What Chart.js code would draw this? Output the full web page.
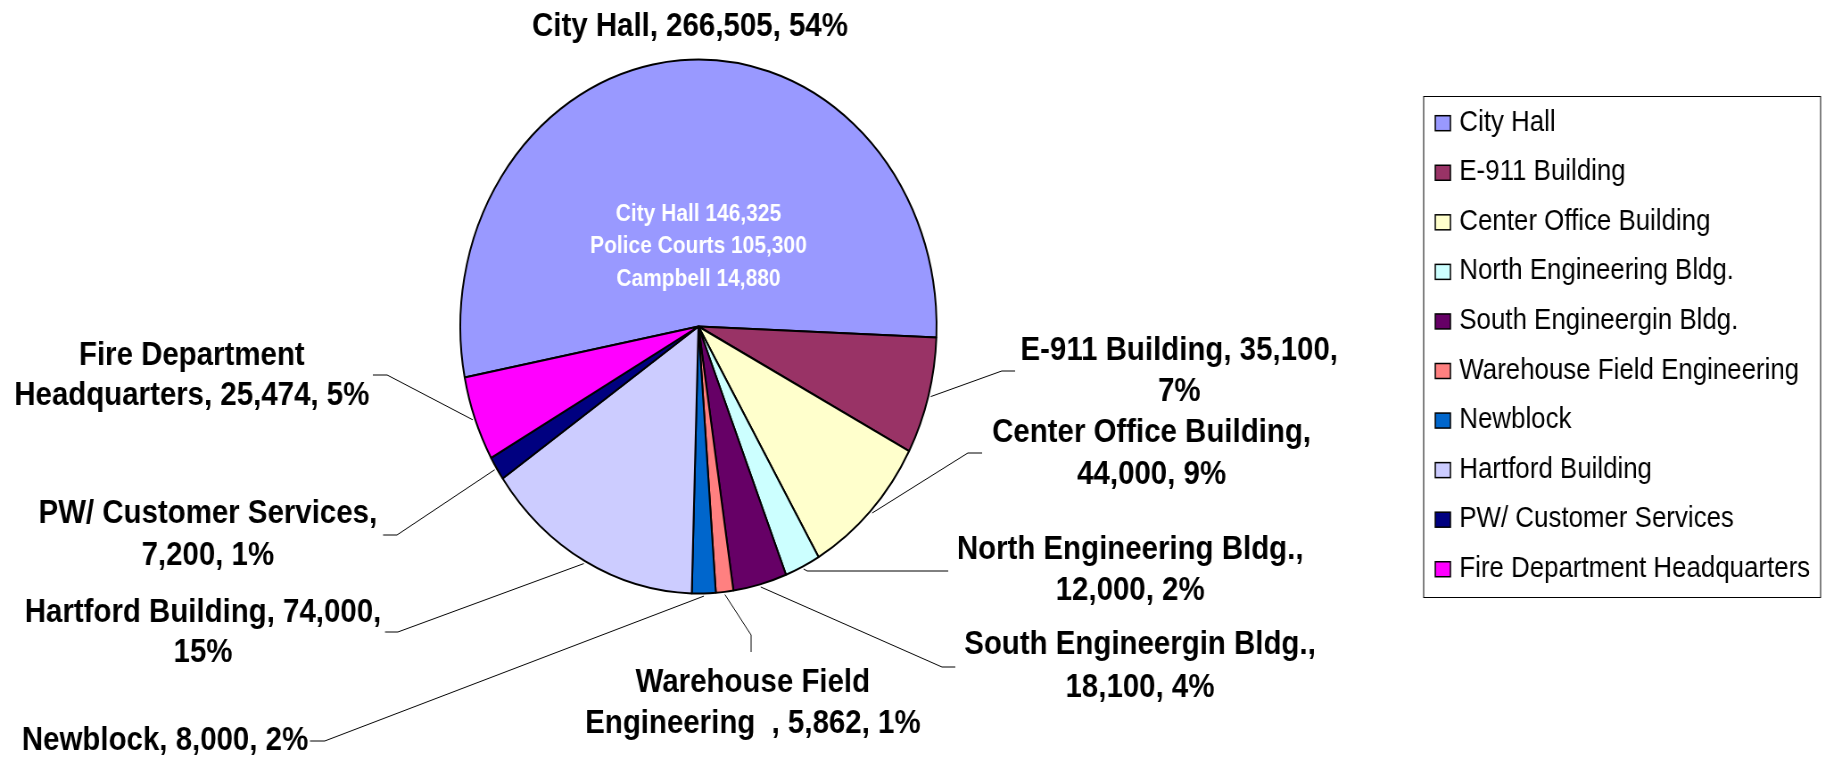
<!DOCTYPE html>
<html><head><meta charset="utf-8">
<script src="https://cdn.jsdelivr.net/npm/chart.js@4/dist/chart.umd.min.js"></script>
<style>
html,body{margin:0;padding:0;background:#fff;overflow:hidden;width:1828px;height:758px;}
#wrap{position:absolute;left:0;top:0;width:2050px;height:758px;transform:scaleX(0.892);transform-origin:0 0;}
canvas{display:block;}
</style></head><body>
<div id="wrap"><canvas id="c" width="2050" height="758"></canvas></div>
<script>
// ---- data ----
const categories = ["City Hall","E-911 Building","Center Office Building","North Engineering Bldg.","South Engineergin Bldg.","Warehouse Field Engineering  ","Newblock","Hartford Building","PW/ Customer Services","Fire Department Headquarters"];
const values = [266505, 35100, 44000, 12000, 18100, 5862, 8000, 74000, 7200, 25474];
const colors = ["#9999FF","#993366","#FFFFCC","#CCFFFF","#660066","#FF8080","#0066CC","#CCCCFF","#000080","#FF00FF"];
const labelFirstLineWords = [99, 3, 3, 3, 3, 2, 99, 3, 3, 2];
const innerNoteLines = ["City Hall 146,325", "Police Courts 105,300", "Campbell 14,880"];

// ---- layout (virtual, pre-squeeze coordinates) ----
const FONT = '"Liberation Sans", Arial, sans-serif';
const labelLayout = [
  {x: 773.5, base: [36]},
  {x: 1322, base: [360, 401], elbow: [1123, 371], end: [1138, 371]},
  {x: 1291, base: [442, 484], elbow: [1085, 453], end: [1101, 453]},
  {x: 1267, base: [559, 600], elbow: [905, 571], end: [1063, 571]},
  {x: 1278, base: [654, 697], elbow: [1056, 667], end: [1071, 667]},
  {x: 844, base: [692, 733], elbow: [842, 635], end: [842, 652]},
  {x: 185, base: [750], elbow: [364, 741], end: [347.5, 741]},
  {x: 227.6, base: [622, 662], elbow: [446, 632], end: [431.6, 632]},
  {x: 233, base: [523, 565], elbow: [445, 535], end: [429.4, 535]},
  {x: 215, base: [365, 405], elbow: [434, 375], end: [418, 375]}
];
const legendBox = {x1: 1595.5, y1: 96, x2: 2040.5, y2: 597};
const legendRow = {sqX: 1609, sqW: 17, sqH: 15, textX: 1636, base0: 130.7, step: 49.56};

const total = values.reduce((a, b) => a + b, 0);
const fmt = v => v.toLocaleString('en-US');
function labelLines(i) {
  const pct = Math.round(values[i] / total * 100);
  const full = categories[i] + ', ' + fmt(values[i]) + ', ' + pct + '%';
  const words = full.split(' ');
  const n = labelFirstLineWords[i];
  if (n >= words.length) return [full];
  return [words.slice(0, n).join(' '), words.slice(n).join(' ')];
}

const annot = {
  id: 'annot',
  afterDraw(chart) {
    const ctx = chart.ctx;
    const meta = chart.getDatasetMeta(0);
    ctx.save();
    // leader lines
    ctx.strokeStyle = '#000';
    ctx.lineWidth = 1;
    meta.data.forEach((arc, i) => {
      const L = labelLayout[i];
      if (!L.end) return;
      const mid = (arc.startAngle + arc.endAngle) / 2;
      const r = arc.outerRadius * 1.01;
      ctx.beginPath();
      ctx.moveTo(arc.x + Math.cos(mid) * r, arc.y + Math.sin(mid) * r);
      ctx.lineTo(L.elbow[0], L.elbow[1]);
      ctx.lineTo(L.end[0], L.end[1]);
      ctx.stroke();
    });
    // data labels
    ctx.fillStyle = '#000';
    ctx.font = 'bold 33px ' + FONT;
    ctx.textAlign = 'center';
    ctx.textBaseline = 'alphabetic';
    labelLayout.forEach((L, i) => {
      labelLines(i).forEach((t, k) => ctx.fillText(t, L.x, L.base[k]));
    });
    // inner note
    const c = meta.data[0];
    ctx.fillStyle = '#fff';
    ctx.font = 'bold 23.5px ' + FONT;
    [220.7, 252.7, 285.7].forEach((b, k) => ctx.fillText(innerNoteLines[k], c.x, b));
    // legend
    ctx.strokeStyle = '#000';
    ctx.lineWidth = 1;
    ctx.strokeRect(legendBox.x1 + 0.5, legendBox.y1 + 0.5, legendBox.x2 - legendBox.x1, legendBox.y2 - legendBox.y1);
    ctx.textAlign = 'left';
    ctx.font = '29px ' + FONT;
    categories.forEach((name, i) => {
      const b = legendRow.base0 + i * legendRow.step;
      ctx.fillStyle = colors[i];
      ctx.fillRect(legendRow.sqX, b - legendRow.sqH, legendRow.sqW, legendRow.sqH);
      ctx.strokeStyle = '#000';
      ctx.lineWidth = 1.5;
      ctx.strokeRect(legendRow.sqX, b - legendRow.sqH, legendRow.sqW, legendRow.sqH);
      ctx.fillStyle = '#000';
      ctx.fillText(name.trim(), legendRow.textX, b);
    });
    ctx.restore();
  }
};

new Chart(document.getElementById('c'), {
  type: 'pie',
  data: {
    labels: categories,
    datasets: [{
      data: values,
      backgroundColor: colors,
      borderColor: '#000',
      borderWidth: 2,
      radius: 267
    }]
  },
  options: {
    responsive: false,
    devicePixelRatio: 1,
    animation: false,
    rotation: -101,
    layout: {padding: {left: 483, right: 967, top: 27, bottom: 132}},
    plugins: {legend: {display: false}, tooltip: {enabled: false}, title: {display: false}}
  },
  plugins: [annot]
});
</script>
</body></html>
